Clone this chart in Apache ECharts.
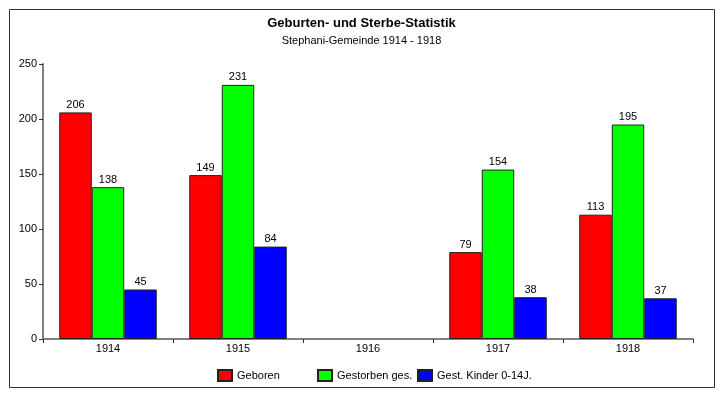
<!DOCTYPE html>
<html>
<head>
<meta charset="utf-8">
<script src="https://cdn.jsdelivr.net/npm/echarts@6/dist/echarts.min.js"></script>
<style>
  html, body { margin: 0; padding: 0; background: #fff; }
  #chart { width: 723px; height: 397px; }
</style>
</head>
<body>
<div id="chart"></div>
<script>
// Jahre und Werte aus der Statistik (1916 ohne Angaben)
var years = ['1914', '1915', '1916', '1917', '1918']
var geboren = [206, 149, null, 79, 113]
var gestorben = [138, 231, null, 154, 195]
var kinder = [45, 84, null, 38, 37]
var names = ['Geboren', 'Gestorben ges.', 'Gest. Kinder 0-14J.']

var font = 'Liberation Sans, Arial, sans-serif'

function barSeries(name, data, color) {
  return {
    name: name,
    type: 'bar',
    data: data,
    barGap: 0,
    barCategoryGap: '25%',
    itemStyle: { color: color, borderColor: '#222', borderWidth: 1 },
    label: {
      show: true,
      position: 'top',
      distance: 2,
      color: '#000',
      fontFamily: font,
      fontSize: 11
    },
    emphasis: { disabled: true }
  }
}

// eine Legende pro Eintrag, damit die Abstaende gleich bleiben
function legendItem(name, left) {
  return {
    top: 369,
    left: left,
    padding: 0,
    itemWidth: 14,
    itemHeight: 11,
    itemGap: 0,
    icon: 'rect',
    textStyle: { fontFamily: font, fontSize: 11, color: '#000' },
    data: [name]
  }
}

var chart = echarts.init(document.getElementById('chart'))
var option = {
  backgroundColor: '#fff',
  animation: false,
  title: {
    text: 'Geburten- und Sterbe-Statistik',
    subtext: 'Stephani-Gemeinde 1914 - 1918',
    left: 'center',
    top: 12,
    itemGap: 5,
    textStyle: { fontFamily: font, fontSize: 13, fontWeight: 'bold', color: '#000' },
    subtextStyle: { fontFamily: font, fontSize: 11, color: '#000' }
  },
  legend: [
    legendItem(names[0], 217),
    legendItem(names[1], 317),
    legendItem(names[2], 417)
  ],
  grid: { left: 43, right: 30, top: 64, bottom: 58 },
  xAxis: {
    type: 'category',
    data: years,
    axisLine: { lineStyle: { color: '#808080', width: 2 } },
    axisTick: { show: true, length: 4, lineStyle: { color: '#333' } },
    axisLabel: { color: '#000', fontFamily: font, fontSize: 11, margin: 4 }
  },
  yAxis: {
    type: 'value',
    min: 0,
    max: 250,
    interval: 50,
    axisLine: { show: true, lineStyle: { color: '#808080', width: 2 } },
    axisTick: { show: true, length: 4, lineStyle: { color: '#333' } },
    axisLabel: { color: '#000', fontFamily: font, fontSize: 11, margin: 6 },
    splitLine: { show: false }
  },
  graphic: [{
    type: 'rect',
    shape: { x: 9.5, y: 9.5, width: 705, height: 378 },
    style: { fill: 'none', stroke: '#333', lineWidth: 1 },
    silent: true
  }],
  series: [
    barSeries(names[0], geboren, '#ff0000'),
    barSeries(names[1], gestorben, '#00ff00'),
    barSeries(names[2], kinder, '#0000ff')
  ]
}
chart.setOption(option)
</script>
</body>
</html>
